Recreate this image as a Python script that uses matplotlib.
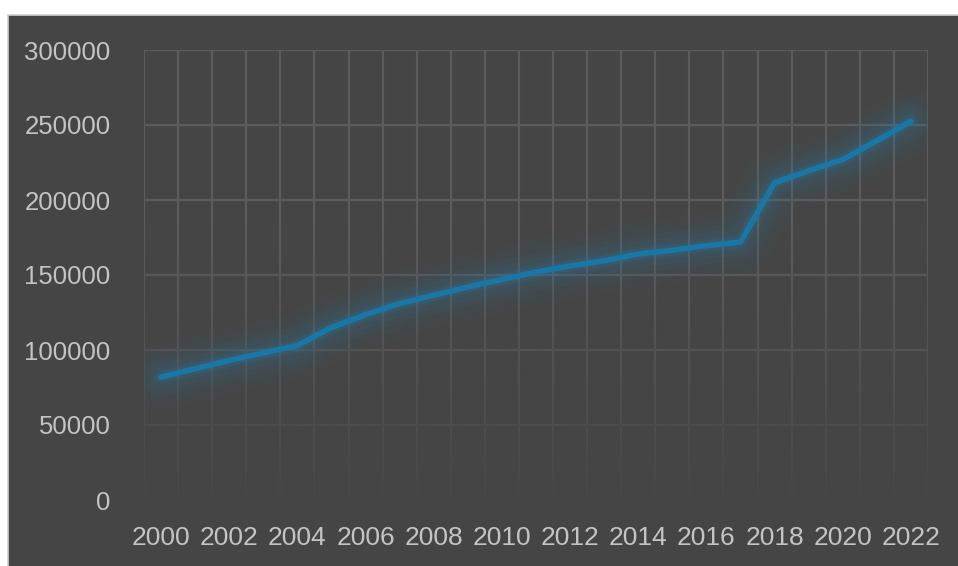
import numpy as np
import matplotlib
matplotlib.use("Agg")
import matplotlib.pyplot as plt
from matplotlib.patches import Rectangle

years = list(range(2000, 2023))
values = [82000, 87500, 93000, 98000, 103000, 115000, 123500, 131000, 136500,
          142000, 147000, 152000, 156000, 159500, 164000, 166500, 169500, 172000,
          211500, 219500, 227000, 239500, 252500]
yticks = [0, 50000, 100000, 150000, 200000, 250000, 300000]
xtick_labels = [str(y) for y in years[::2]]

W, H = 958, 566
fig = plt.figure(figsize=(W / 100, H / 100), dpi=100)
fig.patch.set_facecolor("white")
panel = "#454545"
fig.add_artist(Rectangle((8 / W, -0.05), 1.1, 1.05 - 15 / H, transform=fig.transFigure,
                         facecolor=panel, edgecolor="#d0d0d0", linewidth=1.2, zorder=0))

ax = fig.add_axes([144 / W, 1 - 500 / H, (928 - 144) / W, (500 - 50) / H])
ax.set_facecolor("none")
for s in ax.spines.values():
    s.set_visible(False)

n = len(years)
x = np.arange(n)

gc = "#5c5c5c"
for i in range(n + 1):
    ax.axvline(i - 0.5, color=gc, lw=1.6, zorder=1)
for yv in yticks:
    ax.axhline(yv, color=gc, lw=1.6, zorder=1)

# fade gridlines toward bottom
grad = np.linspace(0, 1, 256)[:, None]
alpha = np.clip((0.62 - grad) / 0.62, 0, 1) ** 1.1 * 0.93
rgba = np.zeros((256, 1, 4))
rgba[..., :3] = matplotlib.colors.to_rgb(panel)
rgba[..., 3] = alpha
ax.imshow(rgba, extent=(0, 1, 0, 1), transform=ax.transAxes, aspect="auto",
          origin="lower", zorder=2, interpolation="bilinear")
ax.set_xlim(-0.5, n - 0.5)
ax.set_ylim(0, 300000)

lc = "#1877a6"
for w, a in [(46, 0.035), (36, 0.045), (27, 0.055), (19, 0.07), (12, 0.09), (8, 0.12)]:
    ax.plot(x, values, color="#2a80b0", lw=w, alpha=a, solid_capstyle="round",
            solid_joinstyle="round", zorder=3)
ax.plot(x, values, color=lc, lw=4.0, solid_capstyle="round",
        solid_joinstyle="round", zorder=4)

tc = "#c4c4c4"
ax.set_yticks(yticks)
ax.set_yticklabels([str(v) for v in yticks])
ax.set_xticks(x[::2])
ax.set_xticklabels(xtick_labels)
ax.tick_params(axis="y", length=0, pad=24, labelsize=18.5, labelcolor=tc)
ax.tick_params(axis="x", length=0, pad=19, labelsize=19, labelcolor=tc)
for lab in ax.get_xticklabels() + ax.get_yticklabels():
    lab.set_fontfamily("Liberation Sans")

fig.savefig("out.png", dpi=100, facecolor="white")
